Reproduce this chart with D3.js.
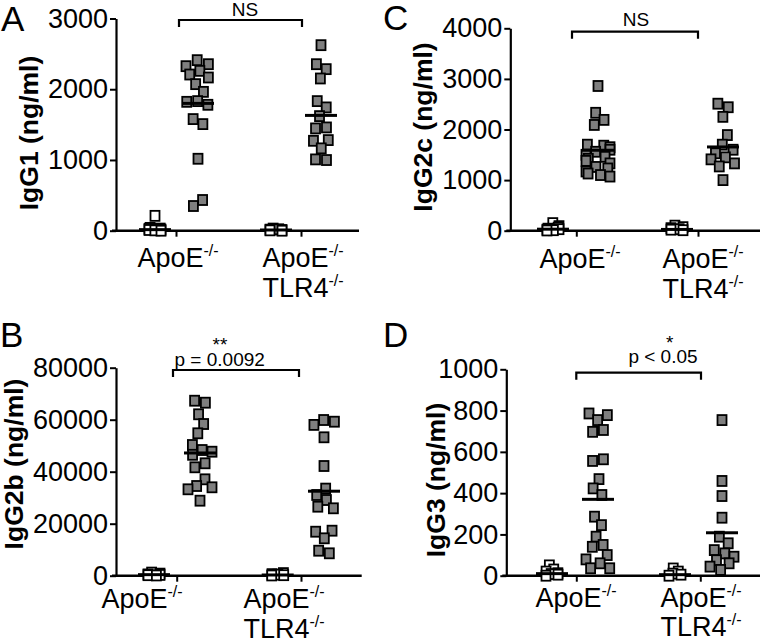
<!DOCTYPE html>
<html>
<head>
<meta charset="utf-8">
<script src="https://cdn.jsdelivr.net/npm/d3@7"></script>
<style>
  body { margin: 0; background: #fff; }
  svg { display: block; font-family: "Liberation Sans", Arial, Helvetica, sans-serif; }
</style>
</head>
<body>
<svg id="chart" width="764" height="641"></svg>
<script>
// groups on the x axis, two columns each (unimmunized / immunized)
var groups = ["ApoE", "TLR4"];
var columns = ["ctrl", "imm"];

// IgG1 (ng/ml)
var igg1Ticks = [0, 1000, 2000, 3000];
var igg1ApoeCtrl = [210, 40, 30, 25, 15, 10, 5, 0];
var igg1ApoeImm = [2411, 2354, 2326, 2260, 2208, 2166, 2072, 1963, 1832, 1822, 1780, 1578, 1507, 1017, 434, 349];
var igg1Tlr4Ctrl = [30, 20, 15, 10, 5, 0];
var igg1Tlr4Imm = [2623, 2354, 2284, 2152, 1832, 1743, 1620, 1460, 1446, 1281, 1271, 1164, 1008, 999];
var igg1Means = [[15, 1800], [10, 1630]];

// IgG2c (ng/ml)
var igg2cTicks = [0, 1000, 2000, 3000, 4000];
var igg2cApoeCtrl = [150, 90, 60, 40, 30, 20, 10, 5];
var igg2cApoeImm = [2860, 2330, 2190, 2090, 1700, 1680, 1650, 1600, 1560, 1500, 1460, 1420, 1380, 1330, 1260, 1230, 1170, 1130, 1100, 1070];
var igg2cTlr4Ctrl = [100, 70, 50, 30, 20, 10];
var igg2cTlr4Imm = [2510, 2440, 2250, 1890, 1700, 1600, 1530, 1450, 1410, 1330, 1270, 1000];
var igg2cMeans = [[30, 1590], [25, 1655]];

// IgG2b (ng/ml)
var igg2bTicks = [0, 20000, 40000, 60000, 80000];
var igg2bApoeCtrl = [1200, 800, 500, 300, 200, 100];
var igg2bApoeImm = [67300, 66540, 62080, 58340, 54770, 50270, 48340, 47690, 46500, 43230, 41690, 37070, 34500, 34000, 33230, 28850];
var igg2bTlr4Ctrl = [1000, 600, 400, 200, 100];
var igg2bTlr4Imm = [59880, 59230, 58000, 53230, 42190, 33500, 31040, 29110, 26540, 25920, 17310, 16920, 14380, 9610, 8610];
var igg2bMeans = [[400, 47200], [300, 32500]];

// IgG3 (ng/ml)
var igg3Ticks = [0, 200, 400, 600, 800, 1000];
var igg3ApoeCtrl = [50, 30, 20, 12, 8, 5, 0];
var igg3ApoeImm = [786, 778, 754, 706, 697, 564, 556, 468, 423, 391, 286, 245, 189, 149, 140, 100, 79, 60, 36, 36];
var igg3Tlr4Ctrl = [35, 20, 10, 5, 0];
var igg3Tlr4Imm = [754, 459, 386, 281, 189, 157, 124, 108, 92, 75, 60, 44, 28];
var igg3Means = [[10, 370], [5, 208]];

var xLabelLines = [["ApoE"], ["ApoE", "TLR4"]];

var panels = [
  { letter: "A", label: "IgG1 (ng/ml)", ticks: igg1Ticks, cols: [[igg1ApoeCtrl, igg1ApoeImm], [igg1Tlr4Ctrl, igg1Tlr4Imm]], means: igg1Means,
    ax: 116, y0: 230.7, yTop: 18.5, xEnd: 359, xTicks: [176, 301], cx: [[155, 198], [276, 321]],
    labelX: [178, 303], labelY: [267, 297], letterPos: [1, 31], yLabelPos: [38, 133],
    bracket: [179, 302, 20], notes: [{ t: "NS", x: 245, y: 16 }] },
  { letter: "C", label: "IgG2c (ng/ml)", ticks: igg2cTicks, cols: [[igg2cApoeCtrl, igg2cApoeImm], [igg2cTlr4Ctrl, igg2cTlr4Imm]], means: igg2cMeans,
    ax: 510.3, y0: 230.7, yTop: 28.3, xEnd: 760, xTicks: [576.3, 698], cx: [[553, 598], [677, 723]],
    labelX: [580, 703], labelY: [268, 298], letterPos: [383, 30], yLabelPos: [432, 127],
    bracket: [572, 698, 31.7], notes: [{ t: "NS", x: 636, y: 26 }] },
  { letter: "B", label: "IgG2b (ng/ml)", ticks: igg2bTicks, cols: [[igg2bApoeCtrl, igg2bApoeImm], [igg2bTlr4Ctrl, igg2bTlr4Imm]], means: igg2bMeans,
    ax: 116, y0: 575.7, yTop: 367.7, xEnd: 361.7, xTicks: [176.7, 301], cx: [[154, 200], [277.7, 324]],
    labelX: [142, 284], labelY: [608, 638], letterPos: [0, 347], yLabelPos: [23, 464],
    bracket: [173, 299, 370], notes: [{ t: "**", x: 220, y: 351 }, { t: "p = 0.0092", x: 219.7, y: 366 }] },
  { letter: "D", label: "IgG3 (ng/ml)", ticks: igg3Ticks, cols: [[igg3ApoeCtrl, igg3ApoeImm], [igg3Tlr4Ctrl, igg3Tlr4Imm]], means: igg3Means,
    ax: 506.3, y0: 575.7, yTop: 369.3, xEnd: 760, xTicks: [576.3, 700.3], cx: [[552, 598], [675, 722]],
    labelX: [576, 701], labelY: [607, 636], letterPos: [383, 347], yLabelPos: [445, 480],
    bracket: [576.3, 701, 372.7], notes: [{ t: "*", x: 669.7, y: 349 }, { t: "p < 0.05", x: 663, y: 363.3 }] }
];

var svg = d3.select("#chart");
svg.append("rect").attr("width", 764).attr("height", 641).attr("fill", "#fff");

var SQ_W = 9, SQ_H = 10;

// spread points sideways so they don't pile up (y stays fixed)
function jitter(vals, cx, y, spread, r) {
  var nodes = vals.map(function(v) { return { v: v, x: cx, y: y(v), fy: y(v) }; });
  var sim = d3.forceSimulation(nodes)
    .force("x", d3.forceX(cx).strength(0.15))
    .force("collide", d3.forceCollide(r).strength(0.7))
    .stop();
  for (var i = 0; i < 150; i++) { sim.tick(); }
  nodes.forEach(function(n) {
    n.x = Math.max(cx - spread, Math.min(cx + spread, n.x));
    n.y = n.fy;
  });
  return nodes;
}

panels.forEach(function(p) {
  var g = svg.append("g");
  var max = p.ticks[p.ticks.length - 1];
  var y = d3.scaleLinear().domain([0, max]).range([p.y0, p.yTop]);
  var xg = d3.scalePoint().domain(groups).range(p.xTicks);

  // y axis
  var yAxis = g.append("g")
    .attr("transform", "translate(" + p.ax + ",0)")
    .call(d3.axisLeft(y).tickValues(p.ticks).tickSize(6).tickSizeOuter(0).tickPadding(2).tickFormat(d3.format("d")));
  yAxis.select(".domain").attr("stroke-width", 2.2);
  yAxis.selectAll(".tick line").attr("stroke-width", 2);
  yAxis.selectAll(".tick text")
    .attr("font-size", 27)
    .attr("font-family", "Liberation Sans, Arial, sans-serif")
    .attr("fill", "#000");

  // x axis: long baseline + group ticks
  g.append("line")
    .attr("x1", p.ax - 4).attr("x2", p.xEnd)
    .attr("y1", p.y0).attr("y2", p.y0)
    .attr("stroke", "#000").attr("stroke-width", 2.4);
  var xAxis = g.append("g")
    .attr("transform", "translate(0," + p.y0 + ")")
    .call(d3.axisBottom(xg).tickSize(6).tickSizeOuter(0).tickFormat(""));
  xAxis.select(".domain").remove();
  xAxis.selectAll(".tick line").attr("stroke-width", 2);

  // points
  groups.forEach(function(grp, gi) {
    columns.forEach(function(col, ci) {
      var cx = p.cx[gi][ci];
      var nodes = ci === 0 ? jitter(p.cols[gi][ci], cx, y, 6, 3) : jitter(p.cols[gi][ci], cx, y, 12, 5.5);
      g.append("g").selectAll("rect")
        .data(nodes)
        .enter().append("rect")
        .attr("x", function(d) { return d.x - SQ_W / 2; })
        .attr("y", function(d) { return d.y - SQ_H / 2; })
        .attr("width", SQ_W)
        .attr("height", SQ_H)
        .attr("fill", ci === 0 ? "#fff" : "#7f7f7f")
        .attr("stroke", "#000")
        .attr("stroke-width", 1.8);

      // mean line
      var m = p.means[gi][ci];
      g.append("line")
        .attr("x1", cx - 16).attr("x2", cx + 16)
        .attr("y1", y(m)).attr("y2", y(m))
        .attr("stroke", "#000").attr("stroke-width", 3);
    });
  });

  // x labels
  groups.forEach(function(grp, gi) {
    xLabelLines[gi].forEach(function(line, li) {
      var t = g.append("text")
        .attr("x", p.labelX[gi])
        .attr("y", p.labelY[li])
        .attr("text-anchor", "middle")
        .attr("font-size", 27)
        .attr("fill", "#000");
      t.append("tspan").text(line);
      t.append("tspan").attr("dy", -11).attr("font-size", 16).text("-/-");
    });
  });

  // y label
  g.append("text")
    .attr("transform", "translate(" + p.yLabelPos[0] + "," + p.yLabelPos[1] + ") rotate(-90)")
    .attr("text-anchor", "middle")
    .attr("font-size", 26.5)
    .attr("font-weight", "bold")
    .text(p.label);

  // panel letter
  g.append("text")
    .attr("x", p.letterPos[0]).attr("y", p.letterPos[1])
    .attr("font-size", 35)
    .text(p.letter);

  // significance bracket
  var b = p.bracket;
  g.append("path")
    .attr("d", "M" + b[0] + "," + (b[2] + 7) + "V" + b[2] + "H" + b[1] + "V" + (b[2] + 7))
    .attr("fill", "none").attr("stroke", "#000").attr("stroke-width", 2.2);
  p.notes.forEach(function(n) {
    g.append("text")
      .attr("x", n.x).attr("y", n.y)
      .attr("text-anchor", "middle")
      .attr("font-size", 19)
      .text(n.t);
  });
});
</script>
</body>
</html>
